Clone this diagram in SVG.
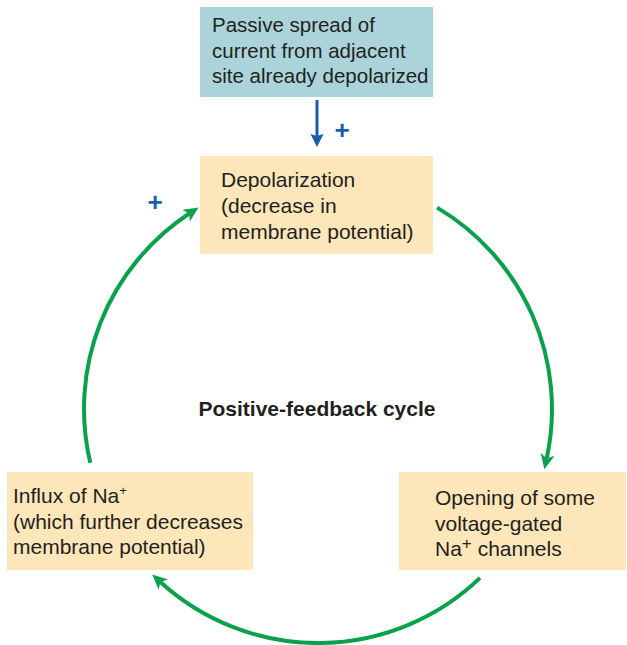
<svg xmlns="http://www.w3.org/2000/svg" width="627" height="645" viewBox="0 0 627 645">
<style>
.t{font-family:"Liberation Sans",Arial,sans-serif;font-size:21px;fill:#231f20}
.s{font-size:20.5px}
.b{font-family:"Liberation Sans",Arial,sans-serif;font-size:21px;font-weight:bold;fill:#231f20}
.plus{font-family:"Liberation Sans",Arial,sans-serif;font-size:26px;font-weight:bold;fill:#1a5ea8}
.box{fill:#fde6b9}
.cyc{fill:none;stroke:#0aa14c;stroke-width:4}
</style>
<defs>
<marker id="ga" markerUnits="userSpaceOnUse" markerWidth="20" markerHeight="16" refX="4" refY="7" orient="auto">
<path d="M0,0 L15,7 L0,14 L4,7 z" fill="#0aa14c"/>
</marker>
<marker id="ba" markerUnits="userSpaceOnUse" markerWidth="16" markerHeight="16" refX="2" refY="6.5" orient="auto">
<path d="M0,0 L13,6.5 L0,13 L2,6.5 z" fill="#1a5ea8"/>
</marker>
</defs>
<g id="passive">
<rect x="200" y="7" width="233" height="90" fill="#aad4da"/>
<text class="t s" x="212" y="32">Passive spread of</text>
<text class="t s" x="212" y="58">current from adjacent</text>
<text class="t s" x="212" y="83">site already depolarized</text>
</g>
<g id="depolarization">
<rect class="box" x="200" y="156" width="233" height="98"/>
<text class="t" x="221" y="187">Depolarization</text>
<text class="t" x="221" y="213">(decrease in</text>
<text class="t" x="221" y="239">membrane potential)</text>
</g>
<g id="opening">
<rect class="box" x="399" y="472" width="227" height="98"/>
<text class="t" x="435" y="505">Opening of some</text>
<text class="t" x="435" y="531">voltage-gated</text>
<text class="t" x="435" y="556">Na<tspan font-size="17" dy="-7">+</tspan><tspan dy="7"> channels</tspan></text>
</g>
<g id="influx">
<rect class="box" x="7" y="472" width="246" height="98"/>
<text class="t" x="13" y="503">Influx of Na<tspan font-size="13" dy="-8">+</tspan></text>
<text class="t" x="13" y="529">(which further decreases</text>
<text class="t" x="13" y="554">membrane potential)</text>
</g>
<g id="label">
<text class="b" x="317" y="416" text-anchor="middle">Positive-feedback cycle</text>
</g>
<g id="connectors">
<line x1="317" y1="100" x2="317" y2="136" stroke="#1a5ea8" stroke-width="3" marker-end="url(#ba)"/>
<text class="plus" x="342" y="139" text-anchor="middle">+</text>
<text class="plus" x="155" y="211" text-anchor="middle">+</text>
<path class="cyc" d="M437.1,207.6 A234,234 0 0 1 546.7,458.4" marker-end="url(#ga)"/>
<path class="cyc" d="M480,577.9 A234,234 0 0 1 160.4,582" marker-end="url(#ga)"/>
<path class="cyc" d="M90.3,462.8 A234,234 0 0 1 189.3,213.5" marker-end="url(#ga)"/>
</g>
</svg>
